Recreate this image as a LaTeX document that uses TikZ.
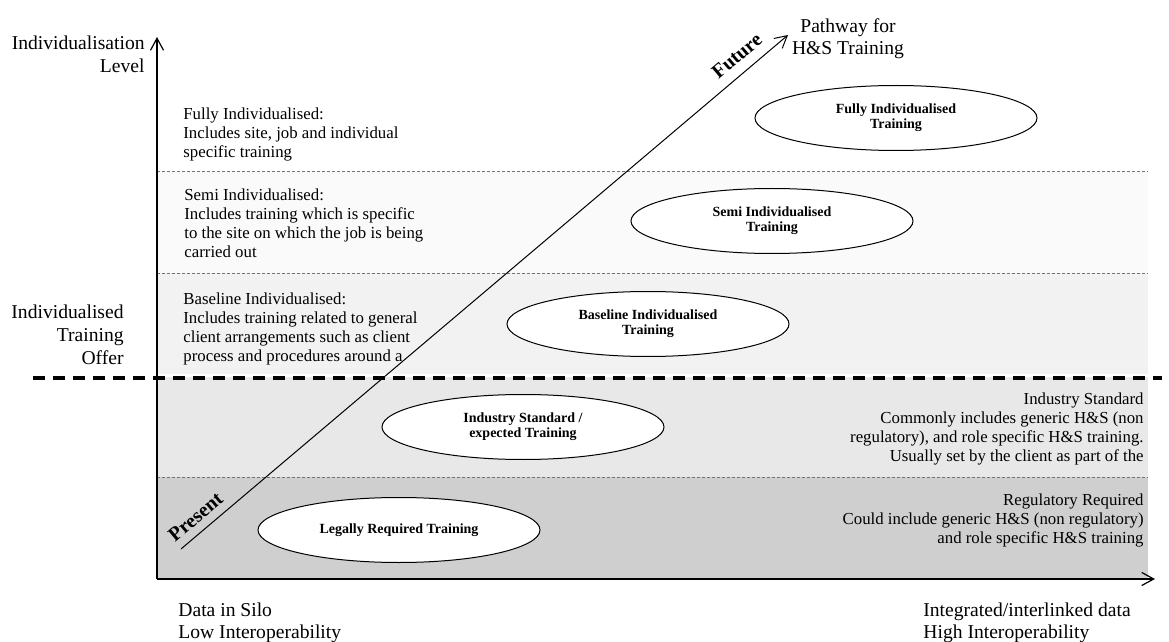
\documentclass[tikz,border=0pt]{standalone}
\usepackage{fontspec}
\setmainfont{Liberation Serif}
\usetikzlibrary{arrows.meta, shapes.geometric}
\tikzset{>={Straight Barb[length=6pt,width=6.5pt]}}

\begin{document}
\begin{tikzpicture}[x=0.5pt, y=-0.5pt,
  sepline/.style={draw=black!55, line width=0.4pt, dash pattern=on 1.5pt off 1pt},
  trainell/.style={ellipse, draw, line width=0.5pt, fill=white, minimum width=141pt, minimum height=32.5pt, inner sep=0pt, align=center, font=\fontsize{7}{7.6}\selectfont\bfseries},
  axislbl/.style={inner sep=0pt, font=\fontsize{9.8}{11.3}\selectfont},
  desc/.style={inner sep=0pt, font=\fontsize{8.4}{9.6}\selectfont},
  pathlbl/.style={inner sep=0pt, font=\fontsize{10}{12}\selectfont\bfseries}]
\useasboundingbox (0,0) rectangle (1169,642);
% bands
\fill[black!2] (157,171) rectangle (1148,273);
\fill[black!5] (157,273) rectangle (1148,374);
\fill[black!9] (157,377) rectangle (1148,477);
\fill[black!19] (157,477) rectangle (1148,579);
\foreach \yy in {171,273,477}
  \draw[sepline] (157,\yy) -- (1148,\yy);
\draw[line width=1.7pt, dash pattern=on 6pt off 4pt] (33,378) -- (1162,378);

% axes
\coordinate (origin) at (157,579);
\coordinate (ytop) at (157,37);
\coordinate (xend) at (1155,579);
\draw[->, line width=0.6pt] (origin) -- (ytop);
\draw[->, line width=0.6pt] (origin) -- (xend);

% pathway
\coordinate (pstart) at (181,549);
\coordinate (pend) at (788,35);
\draw[->, line width=0.5pt] (pstart) -- node[pathlbl, pos=0.04, sloped, above=4pt] {Present}
  node[pathlbl, pos=0.934, sloped, above=5pt] {Future} (pend);

% training levels
\node[trainell] (legal) at (399,530) {Legally Required Training};
\node[trainell] (industry) at (523,427) {Industry Standard /\\expected Training};
\node[trainell] (baseline) at (648,324) {Baseline Individualised\\Training};
\node[trainell] (semi) at (772,221) {Semi Individualised\\Training};
\node[trainell] (fully) at (896,118) {Fully Individualised\\Training};

% descriptions
\node[desc, anchor=north west, align=left] (fullydesc) at (183,107) {Fully Individualised:\\Includes site, job and individual\\specific training};
\node[desc, anchor=north west, align=left] (semidesc) at (184,188) {Semi Individualised:\\Includes training which is specific\\to the site on which the job is being\\carried out};
\node[desc, anchor=north west, align=left] (basedesc) at (183,292) {Baseline Individualised:\\Includes training related to general\\client arrangements such as client\\process and procedures around a};
\node[desc, anchor=north east, align=right] (inddesc) at (1144,392) {Industry Standard\\Commonly includes generic H\&S (non\\regulatory), and role specific H\&S training.\\Usually set by the client as part of the};
\node[desc, anchor=north east, align=right] (regdesc) at (1144,493) {Regulatory Required\\Could include generic H\&S (non regulatory)\\and role specific H\&S training};

% axis labels
\node[axislbl, anchor=north east, align=right] (ylbl) at (145,36) {Individualisation\\Level};
\node[axislbl, anchor=north east, align=right] (offerlbl) at (124,305) {Individualised\\Training\\Offer};
\node[axislbl, anchor=north west, align=left] (lowlbl) at (178,602) {Data in Silo\\Low Interoperability};
\node[axislbl, anchor=north west, align=left] (highlbl) at (923,602) {Integrated/interlinked data\\High Interoperability};
\node[axislbl, anchor=north, align=center] (pathwaylbl) at (848,18) {Pathway for\\H\&S Training};
\end{tikzpicture}
\end{document}
